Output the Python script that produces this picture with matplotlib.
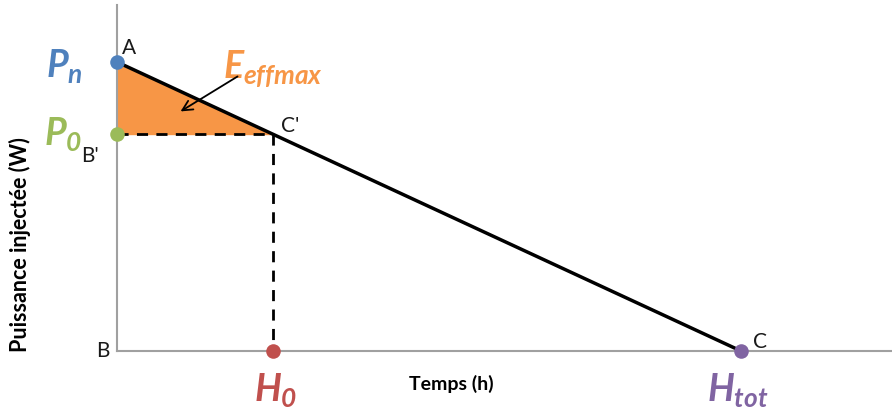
import matplotlib
matplotlib.use("Agg")
import matplotlib.pyplot as plt

# schematic values (arbitrary units)
p_n = 10.0       # puissance nominale
h_tot = 10.0     # duree totale
h_0 = 2.5        # instant H0
p_0 = p_n * (1 - h_0 / h_tot)

line_x = [0, h_tot]
line_y = [p_n, 0]
fill_x = [0, 0, h_0]
fill_y = [p_n, p_0, p_0]

point_labels = ["A", "B'", "C'", "B", "C"]
point_pos = [(0.2, 10.5), (-0.43, 6.75), (2.78, 7.8), (-0.22, 0.0), (10.3, 0.3)]

blue = "#4F81BD"
green = "#9BBB59"
orange = "#F79646"
red = "#C0504D"
purple = "#8064A2"

plt.rcParams['font.family'] = ['Lato', 'DejaVu Sans']
plt.rcParams['mathtext.fontset'] = 'custom'
plt.rcParams['mathtext.it'] = 'Lato:bold:italic'
plt.rcParams['mathtext.rm'] = 'Lato:bold:italic'

fig = plt.figure(figsize=(8.92, 4.17), dpi=100)
ax = fig.add_axes([117 / 892, 66 / 417, 775 / 892, 346 / 417])
ax.set_xlim(0, 775 / 62.4)
ax.set_ylim(0, 346 / 28.9)

for s in ["top", "right"]:
    ax.spines[s].set_visible(False)
for s in ["left", "bottom"]:
    ax.spines[s].set_color("#A0A0A0")
    ax.spines[s].set_linewidth(1.5)
ax.set_xticks([])
ax.set_yticks([])

ax.fill(fill_x, fill_y, color=orange, zorder=2)
ax.plot(line_x, line_y, color="black", lw=2.5, zorder=3)
ax.plot([0, h_0], [p_0, p_0], color="black", lw=2, ls=(0, (4, 3)), zorder=3)
ax.plot([h_0, h_0], [p_0, 0], color="black", lw=2, ls=(0, (4, 3)), zorder=3)

for (x, y), c in zip([(0, p_n), (0, p_0), (h_0, 0), (h_tot, 0)], [blue, green, red, purple]):
    ax.scatter(x, y, s=110, color=c, marker="o", clip_on=False, zorder=4,
               linewidths=0)

for lab, (x, y) in zip(point_labels, point_pos):
    ax.text(x, y, lab, fontsize=15, ha="center", va="center", color="#1a1a1a")

ax.text(-0.85, 9.85, "$P_n$", fontsize=27, color=blue, ha="center", va="center")
ax.text(-0.87, 7.5, "$P_0$", fontsize=27, color=green, ha="center", va="center")
ax.text(2.5, 9.75, "$E_{effmax}$", fontsize=27, color=orange, ha="center", va="center")
ax.text(2.55, -1.35, "$H_0$", fontsize=27, color=red, ha="center", va="center")
ax.text(9.95, -1.35, "$H_{tot}$", fontsize=27, color=purple, ha="center", va="center")

ax.annotate("", xy=(0.98, 8.24), xytext=(1.97, 9.55),
            arrowprops=dict(arrowstyle="->", color="black", lw=1.3, mutation_scale=18))

fig.text(451 / 892, 1 - 384 / 417, "Temps (h)", fontsize=14, fontweight="bold",
         ha="center", va="center")
fig.text(20 / 892, 1 - 245 / 417, "Puissance injectée (W)", fontsize=15.5, fontweight="bold",
         ha="center", va="center", rotation=90)

fig.savefig("out.png", dpi=100)
